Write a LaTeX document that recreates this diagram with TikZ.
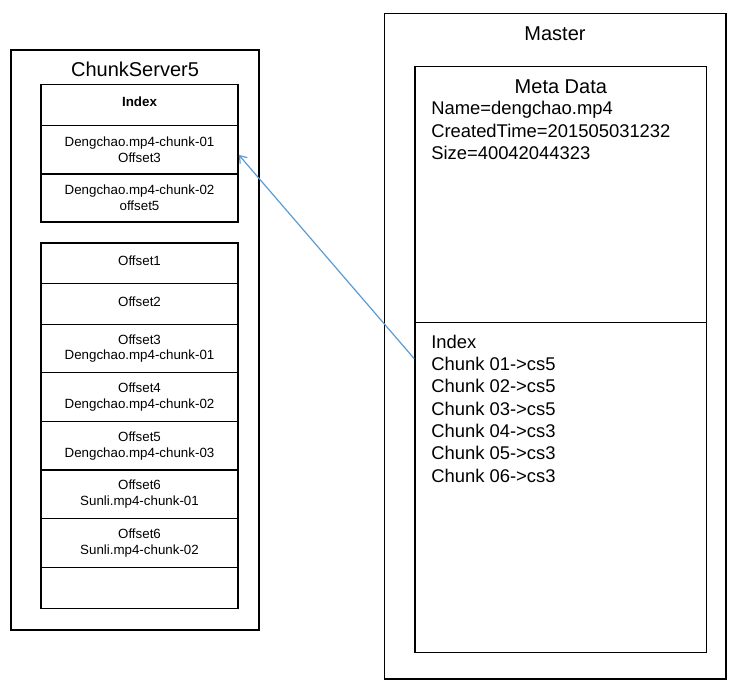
\documentclass[tikz,border=0pt]{standalone}
\usepackage{fontspec}
\setmainfont{Liberation Sans}
\usetikzlibrary{calc,arrows.meta}
\definecolor{linkblue}{HTML}{5B9BD5}
\tikzset{
  box/.style={draw=black, line width=1.1pt, rectangle, inner sep=0pt},
  cell/.style={box, minimum width=147.75pt, align=center, font=\fontsize{10}{11.75}\selectfont},
  single/.style={text depth=4.5pt},
  title/.style={inner sep=0pt, anchor=base, font=\fontsize{15}{18}\selectfont},
  line/.style={inner sep=0pt, anchor=base west, font=\fontsize{13.8}{16.8}\selectfont},
  link/.style={draw=linkblue, line width=0.9pt, -{Straight Barb[length=5pt,width=7pt]}}
}
\begin{document}
\begin{tikzpicture}[x=0.75pt,y=-0.75pt]
\useasboundingbox (0,0) rectangle (738,691);
% ChunkServer5
\node[box, minimum width=186pt, minimum height=435pt] (cs) at (135,340) {};
\node[title] (cst) at (135,76.7) {ChunkServer5};
\node[cell, single, text depth=5pt, minimum height=30.9pt, font=\fontsize{10}{11.75}\selectfont\bfseries] (idxh) at (139.5,105.1) {Index};
\node[cell, minimum height=36.2pt] (idx1) at (139.5,149.85) {Dengchao.mp4-chunk-01\\Offset3};
\node[cell, minimum height=36pt] (idx2) at (139.5,198) {Dengchao.mp4-chunk-02\\offset5};
\node[cell, single, minimum height=30.5pt] (o1) at (139.5,263.35) {Offset1};
\node[cell, single, minimum height=30.75pt] (o2) at (139.5,304.2) {Offset2};
\node[cell, minimum height=36pt] (o3) at (139.5,348.7) {Offset3\\Dengchao.mp4-chunk-01};
\node[cell, minimum height=36.75pt] (o4) at (139.5,397.2) {Offset4\\Dengchao.mp4-chunk-02};
\node[cell, minimum height=36.2pt] (o5) at (139.5,445.85) {Offset5\\Dengchao.mp4-chunk-03};
\node[cell, minimum height=36.5pt] (o6) at (139.5,494.35) {Offset6\\Sunli.mp4-chunk-01};
\node[cell, minimum height=36.75pt] (o7) at (139.5,543.2) {Offset6\\Sunli.mp4-chunk-02};
\node[cell, minimum height=30.75pt] (o8) at (139.5,588.2) {};
% Master
\node[box, minimum width=256.3pt, minimum height=499.3pt] (ms) at (555.15,346.15) {};
\node[title] (mst) at (555,41) {Master};
\node[box, minimum width=218.8pt, minimum height=192pt] (meta) at (560.85,194.7) {};
\node[box, minimum width=218.8pt, minimum height=247.2pt] (ix) at (560.85,487.5) {};
\node[title] (metat) at (560.85,93.3) {Meta Data};
\node[line] (m1) at (431,115) {Name=dengchao.mp4};
\node[line] (m2) at (431,137.5) {CreatedTime=201505031232};
\node[line] (m3) at (431,160) {Size=40042044323};
\node[line] (i0) at (431,348.3) {Index};
\node[line] (i1) at (431,370.6) {Chunk 01->cs5};
\node[line] (i2) at (431,392.9) {Chunk 02->cs5};
\node[line] (i3) at (431,415.2) {Chunk 03->cs5};
\node[line] (i4) at (431,437.5) {Chunk 04->cs3};
\node[line] (i5) at (431,459.8) {Chunk 05->cs3};
\node[line] (i6) at (431,482.1) {Chunk 06->cs3};
% connector
\draw[link] ($(ix.north west)!0.111!(ix.south west)$) -- ($(idx1.north east)!0.6!(idx1.south east)$);
\end{tikzpicture}
\end{document}
